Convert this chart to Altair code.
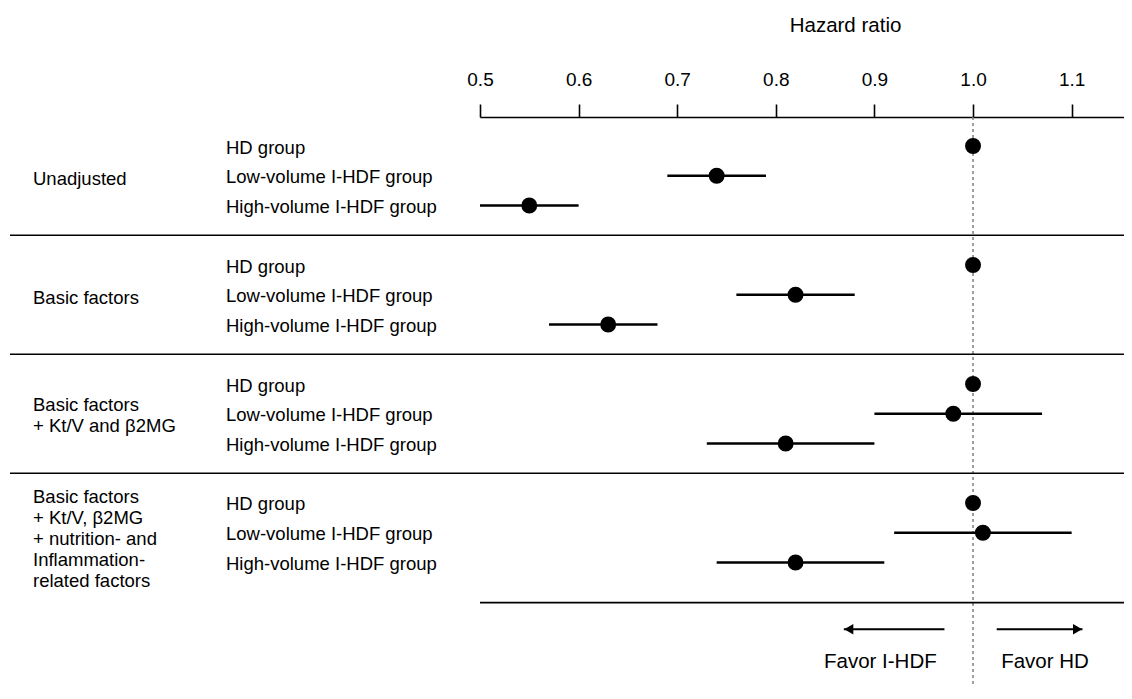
import altair as alt
import pandas as pd

# ---------------- data ----------------
groups = [
    "Unadjusted",
    "Basic factors",
    "Basic factors\n+ Kt/V and β2MG",
    "Basic factors\n+ Kt/V, β2MG\n+ nutrition- and\nInflammation-\nrelated factors",
]
rows = ["HD group", "Low-volume I-HDF group", "High-volume I-HDF group"]
hr_vals = [[1.00, 0.74, 0.55], [1.00, 0.82, 0.63], [1.00, 0.98, 0.81], [1.00, 1.01, 0.82]]
lo_vals = [[1.00, 0.69, 0.50], [1.00, 0.76, 0.57], [1.00, 0.90, 0.73], [1.00, 0.92, 0.74]]
hi_vals = [[1.00, 0.79, 0.60], [1.00, 0.88, 0.68], [1.00, 1.07, 0.90], [1.00, 1.10, 0.91]]
tick_values = [0.5, 0.6, 0.7, 0.8, 0.9, 1.0, 1.1]
favor_labels = ["Favor I-HDF", "Favor HD"]
favor_x = [0.906, 1.073]
arrow_start = [0.971, 1.024]
arrow_tip = [0.869, 1.111]
arrow_shape = ["triangle-left", "triangle-right"]

# ---------------- layout ----------------
W, H = 1116, 570
FONT = "Liberation Sans, Arial, Helvetica, sans-serif"
ROWS_PER_GROUP = 4
# position of the first text line of each group label, in row units within the group
group_label_offset = [1.1, 1.1, 0.69, -0.19]

recs = []
for g, gname in enumerate(groups):
    for r, rname in enumerate(rows):
        recs.append(dict(group=gname, row=rname, pos=ROWS_PER_GROUP * g + r,
                         hr=hr_vals[g][r], lo=lo_vals[g][r], hi=hi_vals[g][r]))
df = pd.DataFrame(recs)
df_ci = df[df["row"] != rows[0]]

df_groups = pd.DataFrame({
    "label": groups,
    "pos": [ROWS_PER_GROUP * g + group_label_offset[g] for g in range(len(groups))],
})
df_sep = pd.DataFrame({"pos": [ROWS_PER_GROUP * g + 3 for g in range(len(groups) - 1)]})
df_bottom = pd.DataFrame({"x0": [tick_values[0]], "pos": [15.35]})
df_ref = pd.DataFrame({"x": [1.0]})
df_arrow = pd.DataFrame({
    "xa": arrow_start, "xb": arrow_tip, "shape": arrow_shape,
    "head": [t + (0.005 if s == "triangle-left" else -0.005) for t, s in zip(arrow_tip, arrow_shape)],
    "pos": [16.24, 16.24],
})
df_favor = pd.DataFrame({"label": favor_labels, "x": favor_x, "pos": [17.34, 17.34]})

x_scale = alt.Scale(domain=[0.5, 1.1531], range=[472, W], nice=False, zero=False)
y_scale = alt.Scale(domain=[-0.975, 18.185], range=[0, H], nice=False, zero=False)

x_axis = alt.Axis(
    orient="top", values=tick_values, format=".1f", grid=False,
    tickSize=13, tickWidth=1.6, tickColor="black",
    domainColor="black", domainWidth=1.6,
    labelFont=FONT, labelFontSize=19, labelColor="black",
    labelPadding=25, labelBaseline="middle", labelFlush=False, labelOverlap=False,
    title="Hazard ratio", titleFont=FONT, titleFontSize=20.5, titleFontWeight="normal",
    titleColor="black", titleX=837, titleY=-92, titleAlign="center", titleBaseline="middle",
)


def X(field):
    return alt.X(field, type="quantitative", scale=x_scale, axis=x_axis)


def Y(field):
    return alt.Y(field, type="quantitative", scale=y_scale, axis=None)


ci = alt.Chart(df_ci).mark_rule(color="black", strokeWidth=2.5).encode(
    x=X("lo"), x2=alt.X2("hi"), y=Y("pos"))

points = alt.Chart(df).mark_circle(color="black", size=254, opacity=1).encode(
    x=X("hr"), y=Y("pos"))

ref = alt.Chart(df_ref).mark_rule(color="#808080", strokeWidth=1.5, strokeDash=[3, 3]).encode(
    x=X("x"), y=alt.value(0), y2=alt.value(H))

seps = alt.Chart(df_sep).mark_rule(color="black", strokeWidth=1.4).encode(
    x=alt.value(2), x2=alt.value(W), y=Y("pos"))

bottom = alt.Chart(df_bottom).mark_rule(color="black", strokeWidth=1.6).encode(
    x=X("x0"), x2=alt.value(W), y=Y("pos"))

row_labels = alt.Chart(df).mark_text(
    align="left", baseline="middle", font=FONT, fontSize=18.5, color="black", dy=1.5
).encode(x=alt.value(218), y=Y("pos"), text="row:N")

group_labels = alt.Chart(df_groups).mark_text(
    align="left", baseline="middle", font=FONT, fontSize=18.5, color="black",
    lineBreak="\n", lineHeight=21
).encode(x=alt.value(25), y=Y("pos"), text="label:N")

arrow_lines = alt.Chart(df_arrow).mark_rule(color="black", strokeWidth=2).encode(
    x=X("xa"), x2=alt.X2("xb"), y=Y("pos"))

arrow_heads = alt.Chart(df_arrow).mark_point(filled=True, color="black", size=110, opacity=1).encode(
    x=X("head"), y=Y("pos"), shape=alt.Shape("shape:N", scale=None))

favor = alt.Chart(df_favor).mark_text(
    align="center", baseline="middle", font=FONT, fontSize=20.5, color="black"
).encode(x=X("x"), y=Y("pos"), text="label:N")

chart = alt.layer(
    ref, seps, bottom, ci, points, row_labels, group_labels, arrow_lines, arrow_heads, favor
).properties(
    width=W, height=H,
    autosize=alt.AutoSizeParams(type="none"),
    padding={"left": 0, "top": 109, "right": 0, "bottom": 0},
    background="white",
).configure_view(stroke=None)

chart.save("out.html", embed_options={"renderer": "svg", "actions": False})
